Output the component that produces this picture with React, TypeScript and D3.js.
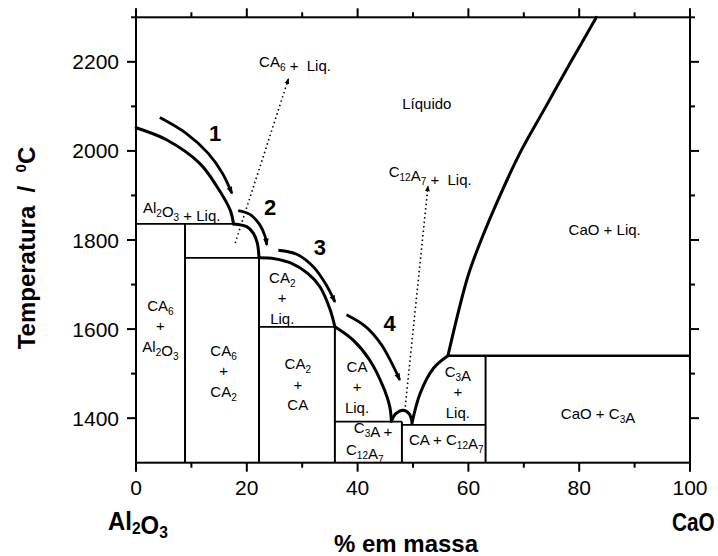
import React from 'react';
import * as d3 from 'd3';

// phase boundaries: [% CaO, temperature °C]
const al2o3Liquidus = [[0, 2052], [5.5, 2025], [11.5, 1972], [14.6, 1920], [17.0, 1867], [17.6, 1836]];
const ca6Liquidus = [[17.6, 1836], [20.0, 1830], [21.2, 1815], [21.9, 1793], [22.2, 1760]];
const ca2Liquidus = [[22.2, 1760], [25, 1758], [28, 1748], [31, 1725], [33.2, 1695], [35, 1645], [35.9, 1605]];
const caLiquidus = [[35.9, 1605], [39.2, 1575], [42.2, 1530], [44.6, 1471], [45.8, 1426], [46.1, 1393]];
const c12a7Liquidus = [[46.1, 1393], [46.9, 1410], [48.2, 1418], [49.3, 1410], [49.8, 1393]];
const c3aLiquidus = [[49.8, 1388], [51.3, 1456], [53.7, 1512], [56.3, 1540]];
const caoLiquidus = [[56.3, 1540], [59.9, 1718], [62.3, 1800], [65.6, 1897], [69.5, 2000], [74.0, 2100], [78.5, 2200], [83.1, 2300]];

// invariant lines: [x1, x2, T] and [x, T1, T2]
const isotherms = [[0, 17.6, 1836], [8.85, 22.2, 1760], [22.2, 35.9, 1605], [35.9, 48.0, 1392], [48.0, 63.1, 1385], [56.3, 100, 1540]];
const compositions = [[8.85, 1300, 1836], [22.2, 1300, 1760], [35.9, 1300, 1605], [48.0, 1300, 1392], [63.1, 1300, 1540]];

// cooling path arrows
const arrowPaths = [
  [[4.3, 2075], [9, 2040], [13, 1995], [15.6, 1950], [17.3, 1905]],
  [[18.45, 1866], [20.5, 1858], [22.3, 1835], [23.3, 1808], [23.6, 1789]],
  [[25.7, 1777], [29, 1768], [32, 1740], [34.3, 1700], [35.9, 1661]],
  [[38.0, 1632], [41.5, 1605], [44.3, 1565], [46.3, 1520], [47.6, 1486]],
];
const arrowNumbers = ['1', '2', '3', '4'];
const arrowNumberPos = [[14.3, 2040], [24.2, 1874], [33.2, 1784], [45.8, 1613]];

const dottedArrows = [
  [[17.9, 1793], [27.5, 2161]],
  [[48.6, 1426], [52.7, 1920]],
];

const singleLabels = [
  { x: 28.7, y: 2200, t: 'CA_6 +  Liq.' },
  { x: 52.5, y: 2107, t: 'Líquido' },
  { x: 53.1, y: 1953, t: 'C_12A_7 +  Liq.' },
  { x: 84.6, y: 1822, t: 'CaO + Liq.' },
  { x: 8.25, y: 1872, t: 'Al_2O_3 + Liq.' },
  { x: 42.8, y: 1378, t: 'C_3A +' },
  { x: 41.3, y: 1329, t: 'C_12A_7' },
  { x: 56.0, y: 1351, t: 'CA + C_12A_7' },
  { x: 83.4, y: 1409, t: 'CaO + C_3A' },
];

const stackedLabels = [
  { x: 4.4, y: 1607, lines: ['CA_6', '+', 'Al_2O_3'] },
  { x: 15.8, y: 1506, lines: ['CA_6', '+', 'CA_2'] },
  { x: 29.2, y: 1476, lines: ['CA_2', '+', 'CA'] },
  { x: 26.4, y: 1670, lines: ['CA_2', '+', 'Liq.'] },
  { x: 39.9, y: 1470, lines: ['CA', '+', 'Liq.'] },
  { x: 58.1, y: 1459, lines: ['C_3A', '+', 'Liq.'] },
];

const xTicks = [0, 20, 40, 60, 80, 100];
const xMinor = [10, 30, 50, 70, 90];
const yTicks = [1400, 1600, 1800, 2000, 2200];
const yMinor = [1500, 1700, 1900, 2100, 2300];

const W = 718;
const H = 556;
const FONT = 'Liberation Sans, Arial, sans-serif';

const x = d3.scaleLinear().domain([0, 100]).range([136, 690]);
const y = d3.scaleLinear().domain([1300, 2300]).range([462.7, 17.3]);

const curve = d3.line<number[]>().x(d => x(d[0])).y(d => y(d[1])).curve(d3.curveCatmullRom.alpha(0.5));

// "CA_6" -> CA with subscript 6
function Chem({ s, sub = 10 }: { s: string; sub?: number }) {
  const parts = s.split(/_(\d+)/);
  const out: any[] = [];
  parts.forEach((p, i) => {
    if (p === '') return;
    if (i % 2 === 1) {
      out.push(<tspan key={i} fontSize={sub} dy={4}>{p}</tspan>);
      out.push(<tspan key={i + 'r'} dy={-4}>{''}</tspan>);
    } else {
      out.push(<tspan key={i}>{p}</tspan>);
    }
  });
  return <>{out}</>;
}

export default function App() {
  return (
    <svg width={W} height={H} style={{ position: 'absolute', left: 0, top: 0, background: '#fff' }} fontFamily={FONT}>
      <defs>
        <marker id="head" viewBox="0 0 10 10" refX="8" refY="5" markerWidth="8" markerHeight="8" markerUnits="userSpaceOnUse" orient="auto">
          <path d="M0,1.5 L10,5 L0,8.5 z" fill="#000" />
        </marker>
        <marker id="headSmall" viewBox="0 0 10 10" refX="8" refY="5" markerWidth="6" markerHeight="6" markerUnits="userSpaceOnUse" orient="auto">
          <path d="M0,1 L10,5 L0,9 z" fill="#000" />
        </marker>
      </defs>

      {/* invariant lines */}
      {isotherms.map((d, i) => (
        <line key={'h' + i} x1={x(d[0])} x2={x(d[1])} y1={y(d[2])} y2={y(d[2])} stroke="#000" strokeWidth={i === 5 ? 2.6 : 1.8} />
      ))}
      {compositions.map((d, i) => (
        <line key={'v' + i} x1={x(d[0])} x2={x(d[0])} y1={y(d[1])} y2={y(d[2])} stroke="#000" strokeWidth={2} />
      ))}

      {/* liquidus */}
      {[al2o3Liquidus, ca6Liquidus, ca2Liquidus, caLiquidus, c12a7Liquidus, c3aLiquidus, caoLiquidus].map((d, i) => (
        <path key={'l' + i} d={curve(d as any) || ''} fill="none" stroke="#000" strokeWidth={3} strokeLinecap="round" />
      ))}

      {/* cooling arrows */}
      {arrowPaths.map((d, i) => (
        <path key={'a' + i} d={curve(d as any) || ''} fill="none" stroke="#000" strokeWidth={2.8} markerEnd="url(#head)" />
      ))}
      {arrowNumbers.map((n, i) => (
        <text key={'n' + i} x={x(arrowNumberPos[i][0])} y={y(arrowNumberPos[i][1])} dy="0.36em" textAnchor="middle" fontSize={22} fontWeight="bold">{n}</text>
      ))}
      {dottedArrows.map((d, i) => (
        <line key={'d' + i} x1={x(d[0][0])} y1={y(d[0][1])} x2={x(d[1][0])} y2={y(d[1][1])} stroke="#000" strokeWidth={1.6} strokeDasharray="1.5 3" markerEnd="url(#headSmall)" />
      ))}

      {/* region labels */}
      {singleLabels.map((l, i) => (
        <text key={'s' + i} x={x(l.x)} y={y(l.y)} dy="0.35em" textAnchor="middle" fontSize={15} xmlSpace="preserve">
          <Chem s={l.t} />
        </text>
      ))}
      {stackedLabels.map((l, i) => (
        <g key={'k' + i}>
          {l.lines.map((t, j) => (
            <text key={j} x={x(l.x)} y={y(l.y) + (j - 1) * 20.5} dy="0.35em" textAnchor="middle" fontSize={15}>
              <Chem s={t} />
            </text>
          ))}
        </g>
      ))}

      {/* frame */}
      <rect x={x(0)} y={y(2300)} width={x(100) - x(0)} height={y(1300) - y(2300)} fill="none" stroke="#000" strokeWidth={2} />

      {/* x ticks bottom and top */}
      {xTicks.map(t => (
        <g key={'xt' + t}>
          <line x1={x(t)} x2={x(t)} y1={y(1300)} y2={y(1300) + 9} stroke="#000" strokeWidth={2} />
          <line x1={x(t)} x2={x(t)} y1={y(2300)} y2={y(2300) - 9} stroke="#000" strokeWidth={2} />
          <text x={x(t)} y={495} textAnchor="middle" fontSize={21}>{t}</text>
        </g>
      ))}
      {xMinor.map(t => (
        <g key={'xm' + t}>
          <line x1={x(t)} x2={x(t)} y1={y(1300)} y2={y(1300) + 5} stroke="#000" strokeWidth={2} />
          <line x1={x(t)} x2={x(t)} y1={y(2300)} y2={y(2300) - 5} stroke="#000" strokeWidth={2} />
        </g>
      ))}

      {/* y ticks left and right */}
      {yTicks.map(t => (
        <g key={'yt' + t}>
          <line x1={x(0)} x2={x(0) - 9} y1={y(t)} y2={y(t)} stroke="#000" strokeWidth={2} />
          <line x1={x(100)} x2={x(100) + 9} y1={y(t)} y2={y(t)} stroke="#000" strokeWidth={2} />
          <text x={119} y={y(t)} dy="0.36em" textAnchor="end" fontSize={21}>{t}</text>
        </g>
      ))}
      {yMinor.map(t => (
        <g key={'ym' + t}>
          <line x1={x(0)} x2={x(0) - 5} y1={y(t)} y2={y(t)} stroke="#000" strokeWidth={2} />
          <line x1={x(100)} x2={x(100) + 5} y1={y(t)} y2={y(t)} stroke="#000" strokeWidth={2} />
        </g>
      ))}

      {/* axis titles */}
      <text transform="translate(35,248) rotate(-90)" textAnchor="middle" fontSize={24} fontWeight="bold" xmlSpace="preserve">
        Temperatura  /  <tspan fontSize={15} dy={-9}>0</tspan><tspan dy={9}>C</tspan>
      </text>
      <text x={406} y={552} textAnchor="middle" fontSize={24} fontWeight="bold">% em massa</text>
      <text transform="translate(108,530) scale(0.92,1)" fontSize={26} fontWeight="bold">
        <Chem s="Al_2O_3" sub={17} />
      </text>
      <text transform="translate(672,531) scale(0.8,1)" fontSize={26} fontWeight="bold">CaO</text>
    </svg>
  );
}
